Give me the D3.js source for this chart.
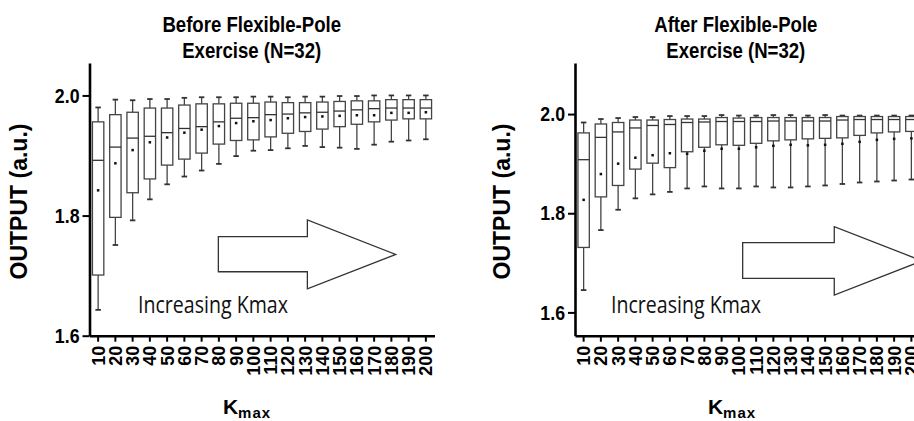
<!DOCTYPE html>
<html>
<head>
<meta charset="utf-8">
<script src="https://cdn.jsdelivr.net/npm/d3@7"></script>
<style>
body { margin: 0; background: #fff; }
svg { display: block; }
</style>
</head>
<body>
<div id="chart"></div>
<script>

// Kmax categories (x axis)
var kmax = ["10","20","30","40","50","60","70","80","90","100","110","120","130","140","150","160","170","180","190","200"];

// Before flexible-pole exercise: box plot statistics per Kmax
var beforeMax  = [1.980,1.993,1.992,1.994,1.994,1.996,1.997,1.997,1.997,1.998,1.998,1.997,1.998,1.998,1.999,1.999,2.000,2.000,2.000,2.000];
var beforeQ3   = [1.956,1.968,1.972,1.979,1.979,1.984,1.986,1.986,1.987,1.987,1.989,1.988,1.988,1.989,1.990,1.991,1.991,1.993,1.993,1.993];
var beforeMed  = [1.892,1.914,1.929,1.932,1.938,1.945,1.948,1.956,1.962,1.963,1.968,1.969,1.971,1.972,1.974,1.976,1.978,1.979,1.979,1.979];
var beforeMean = [1.842,1.887,1.909,1.922,1.930,1.938,1.943,1.949,1.954,1.957,1.959,1.962,1.964,1.965,1.966,1.967,1.967,1.971,1.971,1.972];
var beforeQ1   = [1.701,1.797,1.838,1.861,1.884,1.894,1.904,1.919,1.925,1.926,1.931,1.937,1.940,1.944,1.948,1.952,1.956,1.959,1.961,1.961];
var beforeMin  = [1.643,1.751,1.792,1.827,1.852,1.865,1.875,1.886,1.899,1.908,1.909,1.912,1.916,1.914,1.913,1.911,1.918,1.923,1.925,1.927];

// After flexible-pole exercise
var afterMax  = [1.983,1.990,1.992,1.994,1.994,1.996,1.996,1.996,1.998,1.997,1.997,1.998,1.998,1.997,1.998,1.997,1.997,1.997,1.997,1.997];
var afterQ3   = [1.962,1.980,1.983,1.988,1.988,1.989,1.990,1.990,1.993,1.992,1.993,1.993,1.993,1.993,1.993,1.995,1.995,1.995,1.995,1.995];
var afterMed  = [1.908,1.953,1.964,1.972,1.977,1.979,1.983,1.984,1.985,1.985,1.985,1.986,1.986,1.986,1.986,1.988,1.989,1.989,1.989,1.989];
var afterMean = [1.827,1.879,1.900,1.912,1.917,1.921,1.920,1.926,1.930,1.930,1.933,1.936,1.938,1.937,1.938,1.940,1.944,1.948,1.950,1.951];
var afterQ1   = [1.731,1.833,1.856,1.889,1.901,1.892,1.924,1.933,1.938,1.937,1.941,1.946,1.948,1.950,1.951,1.952,1.957,1.962,1.964,1.965];
var afterMin  = [1.645,1.766,1.807,1.830,1.838,1.843,1.850,1.854,1.850,1.850,1.854,1.852,1.852,1.854,1.856,1.859,1.862,1.864,1.866,1.868];

// Y tick labels
var yTicks = [1.6, 1.8, 2.0];

// Global dimensions
var width = 914;
var height = 421;
var plotTop = 63;
var plotBottom = 335.7;
var bandStep = 17.25;

// The original uses a condensed bold sans, so horizontal texts get squeezed
var squeeze = 0.845;
var boldFont = "'Liberation Sans', Arial, sans-serif";

var svg = d3.select("#chart")
    .append("svg")
    .attr("width", width)
    .attr("height", height);

svg.append("rect")
    .attr("width", width)
    .attr("height", height)
    .attr("fill", "#fff");

drawPanel({
    left: 89.5,
    yDomain: [1.6, 2.054],
    title: ["Before Flexible-Pole", "Exercise (N=32)"],
    titleX: 251.7,
    yTitleX: 27,
    kTitleX: 247,
    textX: 138,
    arrow: { x0: 7.47, xHead: 12.63, xTip: 17.75, yTop: 1.765, yBot: 1.7065, yHeadTop: 1.7926, yHeadBot: 1.678 },
    max: beforeMax, q3: beforeQ3, med: beforeMed, mean: beforeMean, q1: beforeQ1, min: beforeMin
});

drawPanel({
    left: 575,
    yDomain: [1.553, 2.103],
    title: ["After Flexible-Pole", "Exercise (N=32)"],
    titleX: 735.8,
    yTitleX: 510,
    kTitleX: 732,
    textX: 611,
    arrow: { x0: 9.72, xHead: 15.03, xTip: 20.12, yTop: 1.7406, yBot: 1.6688, yHeadTop: 1.7729, yHeadBot: 1.6351 },
    max: afterMax, q3: afterQ3, med: afterMed, mean: afterMean, q1: afterQ1, min: afterMin
});

function drawPanel(p) {

    var g = svg.append("g");

    var x = d3.scaleBand()
        .domain(kmax)
        .range([p.left, p.left + bandStep * kmax.length])
        .padding(0);

    var y = d3.scaleLinear()
        .domain(p.yDomain)
        .range([plotBottom, plotTop]);

    // position in band units, used for the arrow annotation
    var xu = d3.scaleLinear().domain([0, kmax.length]).range(x.range());

    var boxW = x.bandwidth() * 0.66;
    var capW = 5.5;

    var rows = kmax.map(function(k, i) {
        return { k: k, max: p.max[i], q3: p.q3[i], med: p.med[i], mean: p.mean[i], q1: p.q1[i], min: p.min[i] };
    });

    // Arrow annotation
    var a = p.arrow;
    var pts = [
        [xu(a.x0), y(a.yTop)], [xu(a.xHead), y(a.yTop)], [xu(a.xHead), y(a.yHeadTop)],
        [xu(a.xTip), (y(a.yHeadTop) + y(a.yHeadBot)) / 2],
        [xu(a.xHead), y(a.yHeadBot)], [xu(a.xHead), y(a.yBot)], [xu(a.x0), y(a.yBot)]
    ];
    g.append("path")
        .attr("d", d3.line()(pts) + "Z")
        .attr("fill", "#fff")
        .attr("stroke", "#333")
        .attr("stroke-width", 1.3);

    g.append("text")
        .attr("x", p.textX)
        .attr("y", 313)
        .attr("font-family", "'Open Sans', sans-serif")
        .attr("font-size", 24)
        .attr("fill", "#111")
        .attr("textLength", 150)
        .attr("lengthAdjust", "spacingAndGlyphs")
        .text("Increasing Kmax");

    // Boxes
    var box = g.selectAll(".box")
        .data(rows)
        .enter()
        .append("g")
        .attr("class", "box")
        .attr("transform", function(d) { return "translate(" + (x(d.k) + x.bandwidth() / 2) + ",0)"; });

    box.append("line")
        .attr("y1", function(d) { return y(d.max); })
        .attr("y2", function(d) { return y(d.q3); })
        .attr("stroke", "#444").attr("stroke-width", 1.3);

    box.append("line")
        .attr("y1", function(d) { return y(d.q1); })
        .attr("y2", function(d) { return y(d.min); })
        .attr("stroke", "#444").attr("stroke-width", 1.3);

    box.append("line")
        .attr("x1", -capW / 2).attr("x2", capW / 2)
        .attr("y1", function(d) { return y(d.max); })
        .attr("y2", function(d) { return y(d.max); })
        .attr("stroke", "#333").attr("stroke-width", 1.8);

    box.append("line")
        .attr("x1", -capW / 2).attr("x2", capW / 2)
        .attr("y1", function(d) { return y(d.min); })
        .attr("y2", function(d) { return y(d.min); })
        .attr("stroke", "#333").attr("stroke-width", 1.8);

    box.append("rect")
        .attr("x", -boxW / 2)
        .attr("width", boxW)
        .attr("y", function(d) { return y(d.q3); })
        .attr("height", function(d) { return y(d.q1) - y(d.q3); })
        .attr("fill", "#fff")
        .attr("stroke", "#444")
        .attr("stroke-width", 1.3);

    box.append("line")
        .attr("x1", -boxW / 2).attr("x2", boxW / 2)
        .attr("y1", function(d) { return y(d.med); })
        .attr("y2", function(d) { return y(d.med); })
        .attr("stroke", "#333").attr("stroke-width", 1.3);

    box.append("rect")
        .attr("x", -1.25)
        .attr("y", function(d) { return y(d.mean) - 1.25; })
        .attr("width", 2.5)
        .attr("height", 2.5)
        .attr("fill", "#111");

    // Y axis
    var yAxis = g.append("g")
        .attr("transform", "translate(" + p.left + ",0)")
        .call(d3.axisLeft(y).tickValues(yTicks).tickFormat(d3.format(".1f")).tickSize(7).tickSizeOuter(0));

    // X axis
    var xAxis = g.append("g")
        .attr("transform", "translate(0," + plotBottom + ")")
        .call(d3.axisBottom(x).tickSize(6).tickSizeOuter(0));

    [yAxis, xAxis].forEach(function(ax) {
        ax.select(".domain").attr("stroke", "#000").attr("stroke-width", 2.6);
        ax.selectAll(".tick line").attr("stroke", "#000").attr("stroke-width", 2);
    });

    yAxis.selectAll("text")
        .attr("x", -10 / squeeze)
        .attr("transform", "scale(" + squeeze + ",1)")
        .attr("font-family", boldFont)
        .attr("font-weight", "bold")
        .attr("font-size", 21)
        .attr("fill", "#000");

    xAxis.selectAll("text")
        .attr("transform", "rotate(-90)")
        .attr("x", -10)
        .attr("y", 0)
        .attr("dy", "0.36em")
        .attr("text-anchor", "end")
        .attr("font-family", boldFont)
        .attr("font-weight", "bold")
        .attr("font-size", 18)
        .attr("fill", "#000");

    // Titles
    var title = g.append("text")
        .attr("transform", "translate(" + p.titleX + ",0) scale(" + squeeze + ",1)")
        .attr("text-anchor", "middle")
        .attr("font-family", boldFont)
        .attr("font-weight", "bold")
        .attr("font-size", 22)
        .attr("fill", "#000");
    title.append("tspan").attr("x", 0).attr("y", 31.7).text(p.title[0]);
    title.append("tspan").attr("x", 0).attr("y", 58.3).text(p.title[1]);

    // Y axis title
    g.append("text")
        .attr("transform", "translate(" + p.yTitleX + ",201.5) rotate(-90)")
        .attr("text-anchor", "middle")
        .attr("font-family", boldFont)
        .attr("font-weight", "bold")
        .attr("font-size", 23)
        .attr("fill", "#000")
        .text("OUTPUT (a.u.)");

    // X axis title with subscript
    var kt = g.append("text")
        .attr("x", p.kTitleX)
        .attr("y", 414)
        .attr("text-anchor", "middle")
        .attr("font-family", boldFont)
        .attr("font-weight", "bold")
        .attr("font-size", 21)
        .attr("fill", "#000");
    kt.append("tspan").text("K");
    kt.append("tspan").attr("dy", 4).attr("font-size", 15).attr("letter-spacing", 1).text("max");
}

</script>
</body>
</html>
